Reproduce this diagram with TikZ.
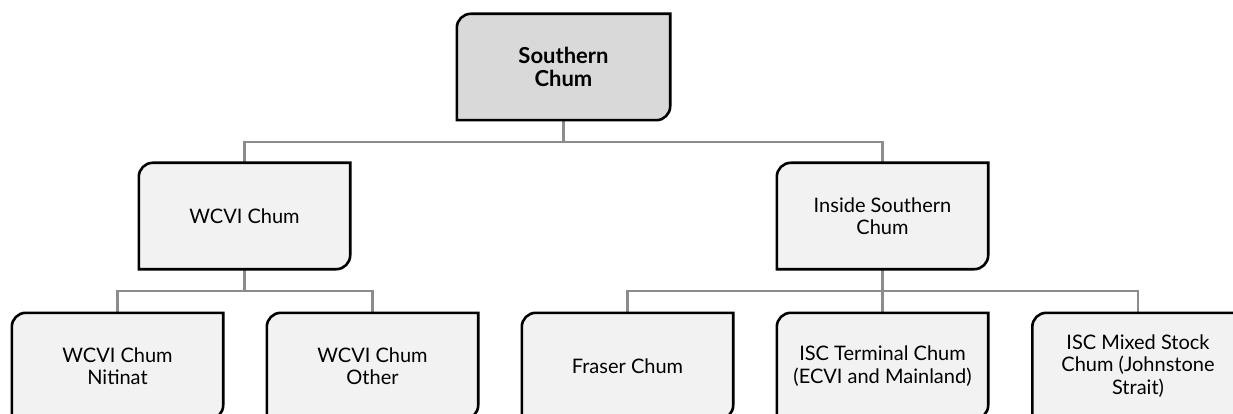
\documentclass[tikz,border=0pt]{standalone}
\usepackage{fontspec}
\setmainfont{Lato}
\usepackage{xcolor}
\usetikzlibrary{backgrounds}

\definecolor{topfill}{HTML}{D9D9D9}
\definecolor{boxfill}{HTML}{F2F2F2}
\definecolor{linkgray}{HTML}{8C8C8C}

\tikzset{
    chumbox/.style={minimum width=211pt, minimum height=106pt, inner sep=0pt, align=center, font=\fontsize{20}{22.5}\selectfont},
    link/.style={draw=linkgray, line width=2.4pt},
}

% frame with round top-left and bottom-right corners
\newcommand{\chumframe}[2]{%
    \draw[line width=2.6pt, fill=#2] ([yshift=-14pt]#1.north west) arc[start angle=180, end angle=90, radius=14pt]
        -- (#1.north east) -- ([yshift=14pt]#1.south east) arc[start angle=0, end angle=-90, radius=14pt]
        -- (#1.south west) -- cycle;}

\begin{document}
\begin{tikzpicture}[x=1pt, y=-1pt]
    \useasboundingbox (0,0) rectangle (1233,414);

    % Top level
    \node[chumbox, minimum width=213pt, font=\fontsize{22}{23}\selectfont\bfseries] (southern) at (563.5,67) {Southern\\Chum};

    % Second level
    \node[chumbox] (wcvi) at (244.5,216) {WCVI Chum};
    \node[chumbox] (inside) at (882.5,216) {Inside Southern\\Chum};

    % Third level
    \node[chumbox] (nitinat) at (117.5,366) {WCVI Chum\\Nitinat};
    \node[chumbox] (other) at (372.5,366) {WCVI Chum\\Other};
    \node[chumbox] (fraser) at (627.5,366) {Fraser Chum};
    \node[chumbox] (terminal) at (882.5,366) {ISC Terminal Chum\\(ECVI and Mainland)};
    \node[chumbox] (mixed) at (1138,366) {ISC Mixed Stock\\Chum (Johnstone\\Strait)};

    \begin{scope}[on background layer]
        % Connectors
        \draw[link] (southern.south) -- ++(0,22) -| (wcvi.north);
        \draw[link] (southern.south) -- ++(0,22) -| (inside.north);
        \draw[link] (wcvi.south) -- ++(0,22) -| (nitinat.north);
        \draw[link] (wcvi.south) -- ++(0,22) -| (other.north);
        \draw[link] (inside.south) -- ++(0,22) -| (fraser.north);
        \draw[link] (inside.south) -- ++(0,22) -| (terminal.north);
        \draw[link] (inside.south) -- ++(0,22) -| (mixed.north);

        % Box frames
        \chumframe{southern}{topfill}
        \chumframe{wcvi}{boxfill}
        \chumframe{inside}{boxfill}
        \chumframe{nitinat}{boxfill}
        \chumframe{other}{boxfill}
        \chumframe{fraser}{boxfill}
        \chumframe{terminal}{boxfill}
        \chumframe{mixed}{boxfill}
    \end{scope}
\end{tikzpicture}
\end{document}
